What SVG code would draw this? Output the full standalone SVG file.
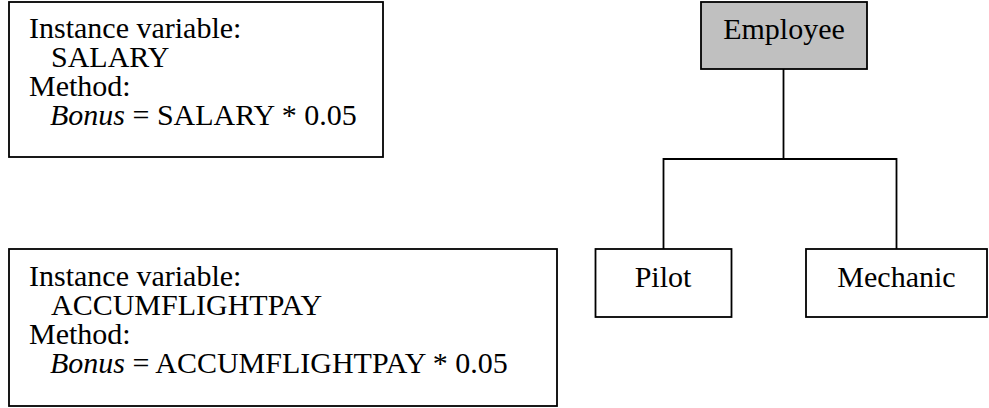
<svg xmlns="http://www.w3.org/2000/svg" width="989" height="408" viewBox="0 0 989 408">
<style>
  .box { fill: #ffffff; stroke: #000000; stroke-width: 1.8; }
  .root { fill: #c0c0c0; stroke: #000000; stroke-width: 1.8; }
  .conn { fill: none; stroke: #000000; stroke-width: 1.8; }
  text { font-family: "Liberation Serif", "Times New Roman", serif; font-size: 30px; fill: #000000; }
  .c { text-anchor: middle; }
  .it { font-style: italic; }
</style>
<rect width="989" height="408" fill="#ffffff"/>
<g id="note-salary">
  <rect class="box" x="9" y="2" width="374" height="155"/>
  <text x="29" y="38">Instance variable:<tspan x="51" y="67">SALARY</tspan><tspan x="29" y="96">Method:</tspan><tspan x="50" y="125" class="it">Bonus</tspan><tspan> = SALARY * 0.05</tspan></text>
</g>
<g id="note-flightpay">
  <rect class="box" x="9" y="249" width="548" height="157"/>
  <text x="29" y="286">Instance variable:<tspan x="51" y="315">ACCUMFLIGHTPAY</tspan><tspan x="29" y="344">Method:</tspan><tspan x="50" y="373" class="it">Bonus</tspan><tspan> = ACCUMFLIGHTPAY * 0.05</tspan></text>
</g>
<g id="connectors">
  <path class="conn" d="M783.5 69 V159"/>
  <path class="conn" d="M663.5 249 V159 H896.5 V249"/>
</g>
<g id="employee">
  <rect class="root" x="701" y="2" width="166" height="67"/>
  <text class="c" x="784" y="39">Employee</text>
</g>
<g id="pilot">
  <rect class="box" x="595.5" y="249" width="136" height="68"/>
  <text class="c" x="663" y="287">Pilot</text>
</g>
<g id="mechanic">
  <rect class="box" x="806" y="249" width="181" height="68"/>
  <text class="c" x="896.5" y="287">Mechanic</text>
</g>
</svg>
